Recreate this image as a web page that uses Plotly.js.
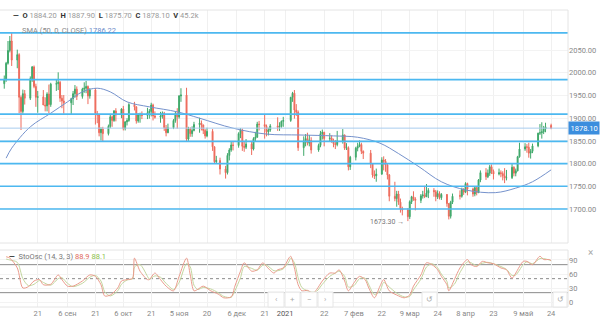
<!DOCTYPE html>
<html><head><meta charset="utf-8">
<script src="https://cdn.plot.ly/plotly-3.0.1.min.js"></script>
<style>html,body{margin:0;padding:0;background:#fff}#chart{width:600px;height:331px}</style>
</head><body><div id="chart"></div>
<script>
// ---- candle data (daily) ----
const dates = [
"2020-08-03","2020-08-04","2020-08-05","2020-08-06","2020-08-07",
"2020-08-10","2020-08-11","2020-08-12","2020-08-13","2020-08-14",
"2020-08-17","2020-08-18","2020-08-19","2020-08-20","2020-08-21",
"2020-08-24","2020-08-25","2020-08-26","2020-08-27","2020-08-28",
"2020-08-31","2020-09-01","2020-09-02","2020-09-03","2020-09-04",
"2020-09-08","2020-09-09","2020-09-10","2020-09-11",
"2020-09-14","2020-09-15","2020-09-16","2020-09-17","2020-09-18",
"2020-09-21","2020-09-22","2020-09-23","2020-09-24","2020-09-25",
"2020-09-28","2020-09-29","2020-09-30","2020-10-01","2020-10-02",
"2020-10-05","2020-10-06","2020-10-07","2020-10-08","2020-10-09",
"2020-10-12","2020-10-13","2020-10-14","2020-10-15","2020-10-16",
"2020-10-19","2020-10-20","2020-10-21","2020-10-22","2020-10-23",
"2020-10-26","2020-10-27","2020-10-28","2020-10-29","2020-10-30",
"2020-11-02","2020-11-03","2020-11-04","2020-11-05","2020-11-06",
"2020-11-09","2020-11-10","2020-11-11","2020-11-12","2020-11-13",
"2020-11-16","2020-11-17","2020-11-18","2020-11-19","2020-11-20",
"2020-11-23","2020-11-24","2020-11-25","2020-11-27",
"2020-11-30","2020-12-01","2020-12-02","2020-12-03","2020-12-04",
"2020-12-07","2020-12-08","2020-12-09","2020-12-10","2020-12-11",
"2020-12-14","2020-12-15","2020-12-16","2020-12-17","2020-12-18",
"2020-12-21","2020-12-22","2020-12-23","2020-12-24",
"2020-12-28","2020-12-29","2020-12-30","2020-12-31",
"2021-01-04","2021-01-05","2021-01-06","2021-01-07","2021-01-08",
"2021-01-11","2021-01-12","2021-01-13","2021-01-14","2021-01-15",
"2021-01-19","2021-01-20","2021-01-21","2021-01-22",
"2021-01-25","2021-01-26","2021-01-27","2021-01-28","2021-01-29",
"2021-02-01","2021-02-02","2021-02-03","2021-02-04","2021-02-05",
"2021-02-08","2021-02-09","2021-02-10","2021-02-11","2021-02-12",
"2021-02-16","2021-02-17","2021-02-18","2021-02-19",
"2021-02-22","2021-02-23","2021-02-24","2021-02-25","2021-02-26",
"2021-03-01","2021-03-02","2021-03-03","2021-03-04","2021-03-05",
"2021-03-08","2021-03-09","2021-03-10","2021-03-11","2021-03-12",
"2021-03-15","2021-03-16","2021-03-17","2021-03-18","2021-03-19",
"2021-03-22","2021-03-23","2021-03-24","2021-03-25","2021-03-26",
"2021-03-29","2021-03-30","2021-03-31","2021-04-01",
"2021-04-05","2021-04-06","2021-04-07","2021-04-08","2021-04-09",
"2021-04-12","2021-04-13","2021-04-14","2021-04-15","2021-04-16",
"2021-04-19","2021-04-20","2021-04-21","2021-04-22","2021-04-23",
"2021-04-26","2021-04-27","2021-04-28","2021-04-29","2021-04-30",
"2021-05-03","2021-05-04","2021-05-05","2021-05-06","2021-05-07",
"2021-05-10","2021-05-11","2021-05-12","2021-05-13","2021-05-14",
"2021-05-17","2021-05-18","2021-05-19","2021-05-20","2021-05-21",
"2021-05-24"];

const open = [
1976,1985,2021,2049,2070, 2028,2040,1946,1915,1954, 1944,1987,2013,1970,1946,
1947,1929,1927,1953,1930, 1975,1976,1979,1944,1938, 1934,1943,1954,1964,
1948,1964,1966,1970,1949, 1962,1910,1907,1868,1876, 1866,1882,1903,1895,1916,
1907,1920,1877,1892,1895, 1930,1925,1894,1907,1908, 1906,1912,1915,1929,1905,
1902,1905,1911,1879,1868, 1879,1895,1910,1903,1949, 1951,1854,1876,1866,1873,
1886,1889,1885,1873,1861, 1871,1837,1804,1807, 1788,1780,1818,1830,1841,
1840,1866,1874,1838,1836, 1843,1832,1855,1858,1887, 1886,1882,1870,1874,
1883,1880,1882,1893, 1895,1946,1955,1918,1913, 1835,1850,1855,1845,1851,
1830,1840,1866,1869, 1855,1856,1850,1844,1842, 1850,1863,1834,1835,1793,
1814,1834,1838,1842,1827, 1823,1799,1775,1773, 1777,1808,1805,1797,1775,
1728,1723,1733,1715,1700, 1698,1683,1716,1727,1722, 1719,1729,1731,1727,1735,
1741,1738,1727,1734,1725, 1732,1712,1684,1715, 1730,1728,1743,1737,1756,
1744,1733,1747,1736,1764, 1780,1771,1779,1793,1783, 1777,1780,1778,1773,1768,
1769,1792,1779,1784,1815, 1832,1837,1836,1823,1827, 1839,1867,1868,1870,1876,
1884.2];

const high = [
1994,2024,2070,2081,2089, 2051,2043,1950,1963,1962, 1992,2015,2016,1976,1960,
1962,1946,1957,1974,1978, 1985,2001,1982,1951,1951, 1945,1960,1973,1970,
1967,1979,1982,1972,1966, 1966,1916,1909,1880,1881, 1886,1907,1906,1918,1922,
1922,1927,1893,1900,1933, 1936,1926,1911,1912,1915, 1923,1920,1934,1932,1915,
1914,1915,1914,1885,1888, 1898,1915,1922,1951,1966, 1967,1881,1880,1882,1892,
1901,1895,1886,1876,1879, 1876,1838,1817,1813, 1795,1823,1834,1848,1849,
1869,1878,1877,1848,1854, 1848,1858,1870,1892,1894, 1907,1886,1879,1887,
1902,1891,1895,1903, 1947,1958,1962,1931,1917, 1860,1865,1868,1863,1858,
1844,1872,1875,1870, 1867,1862,1855,1852,1872, 1876,1864,1845,1838,1817,
1837,1846,1851,1846,1829, 1830,1800,1785,1789, 1814,1816,1810,1800,1777,
1760,1740,1740,1723,1705, 1702,1719,1729,1739,1726, 1733,1740,1751,1755,1746,
1746,1742,1741,1739,1735, 1733,1713,1718,1734, 1741,1747,1746,1759,1758,
1747,1750,1749,1766,1785, 1790,1787,1797,1798,1787, 1789,1785,1783,1790,1786,
1799,1794,1789,1817,1846, 1845,1843,1846,1832,1844, 1868,1887,1891,1883,1890,
1887.9];

const low = [
1965,1980,2018,2045,2015, 2010,1911,1874,1910,1930, 1940,1980,1966,1925,1912,
1929,1915,1915,1911,1925, 1960,1962,1936,1922,1910, 1908,1929,1945,1940,
1943,1956,1955,1931,1943, 1886,1889,1860,1851,1848, 1862,1878,1881,1892,1893,
1900,1873,1873,1884,1892, 1917,1888,1890,1890,1898, 1898,1899,1904,1895,1899,
1890,1899,1872,1860,1867, 1876,1890,1877,1899,1936, 1849,1850,1859,1859,1871,
1868,1873,1865,1855,1858, 1828,1800,1800,1776, 1767,1776,1807,1826,1829,
1835,1856,1828,1826,1832, 1819,1829,1849,1857,1873, 1855,1860,1862,1870,
1872,1872,1879,1881, 1892,1936,1899,1905,1828, 1817,1838,1840,1838,1822,
1826,1836,1853,1838, 1849,1846,1836,1832,1838, 1844,1830,1830,1785,1786,
1807,1827,1836,1821,1810, 1790,1769,1766,1760, 1775,1785,1782,1765,1717,
1717,1705,1709,1692,1686, 1673.3,1678,1711,1718,1697, 1713,1723,1724,1727,1724,
1727,1717,1722,1721,1720, 1705,1677,1679,1711, 1721,1725,1731,1735,1730,
1727,1728,1730,1735,1759, 1764,1768,1773,1777,1765, 1774,1770,1763,1757,1763,
1766,1772,1772,1783,1813, 1828,1824,1813,1811,1823, 1836,1863,1855,1865,1869,
1875.7];

const close = [
1986,2021,2049,2070,2028, 2040,1946,1915,1954,1944, 1987,2013,1970,1946,1947,
1929,1927,1953,1930,1975, 1976,1979,1944,1938,1934, 1943,1954,1964,1948,
1964,1966,1970,1949,1962, 1910,1907,1868,1876,1866, 1882,1903,1895,1916,1907,
1920,1877,1892,1895,1930, 1925,1894,1907,1908,1906, 1912,1915,1929,1905,1902,
1905,1911,1879,1868,1879, 1895,1910,1903,1949,1951, 1854,1876,1866,1873,1886,
1889,1885,1873,1861,1871, 1837,1804,1807,1788, 1780,1818,1830,1841,1840,
1866,1874,1838,1836,1843, 1832,1855,1858,1887,1886, 1882,1870,1874,1883,
1880,1882,1893,1895, 1946,1955,1918,1913,1835, 1850,1855,1845,1851,1830,
1840,1866,1869,1855, 1856,1850,1844,1842,1850, 1863,1834,1835,1793,1814,
1834,1838,1842,1827,1823, 1799,1775,1773,1777, 1808,1805,1797,1775,1728,
1723,1733,1715,1700,1698, 1683,1716,1727,1722,1719, 1729,1731,1727,1735,1741,
1738,1727,1734,1725,1732, 1712,1684,1715,1728, 1728,1743,1737,1756,1744,
1733,1747,1736,1764,1780, 1771,1779,1793,1783,1777, 1780,1778,1773,1768,1769,
1792,1779,1784,1815,1832, 1837,1836,1823,1827,1839, 1867,1868,1870,1876,1881,
1878.1];

const lastVolume = "45.2k";

// ---- SMA(50) ----
const smaDates = ["2020-08-04","2020-08-07","2020-08-17","2020-08-28","2020-09-06","2020-09-14","2020-09-22","2020-09-29","2020-10-08","2020-10-20","2020-11-04","2020-11-16","2020-12-04","2020-12-22","2021-01-09","2021-01-27","2021-02-09","2021-02-21","2021-03-03","2021-03-14","2021-03-26","2021-04-08","2021-04-24","2021-05-05","2021-05-14","2021-05-24"];
const smaValues = [1812,1834,1881,1911,1936,1958,1966,1958,1936,1925,1914,1900,1878,1865,1863,1861,1858,1845,1822,1793,1760,1742,1736,1746,1760,1786.22];

// ---- Stochastic oscillator (14,3,3) ----
const stochDates = ["2020-08-04","2020-08-06","2020-08-10","2020-08-13","2020-08-16","2020-08-19","2020-08-22","2020-08-24","2020-08-28","2020-09-01","2020-09-03","2020-09-06","2020-09-09","2020-09-14","2020-09-18","2020-09-21","2020-09-24","2020-09-26","2020-09-29","2020-10-03","2020-10-05","2020-10-08","2020-10-11","2020-10-12","2020-10-15","2020-10-19","2020-10-20","2020-10-23","2020-10-26","2020-10-29","2020-11-02","2020-11-05","2020-11-09","2020-11-11","2020-11-13","2020-11-15","2020-11-18","2020-11-22","2020-11-26","2020-11-29","2020-12-03","2020-12-05","2020-12-08","2020-12-10","2020-12-14","2020-12-17","2020-12-20","2020-12-22","2020-12-26","2020-12-28","2020-12-31","2021-01-03","2021-01-04","2021-01-06","2021-01-08","2021-01-10","2021-01-13","2021-01-16","2021-01-18","2021-01-21","2021-01-25","2021-01-28","2021-01-30","2021-02-02","2021-02-04","2021-02-07","2021-02-10","2021-02-13","2021-02-15","2021-02-18","2021-02-21","2021-02-23","2021-02-26","2021-03-02","2021-03-06","2021-03-09","2021-03-11","2021-03-15","2021-03-18","2021-03-21","2021-03-24","2021-03-26","2021-03-29","2021-03-30","2021-04-02","2021-04-05","2021-04-09","2021-04-11","2021-04-14","2021-04-17","2021-04-20","2021-04-23","2021-04-27","2021-04-30","2021-05-03","2021-05-05","2021-05-09","2021-05-11","2021-05-14","2021-05-18","2021-05-20","2021-05-23","2021-05-24"];
const stochK = [97,94,73,30,33,45,48,37,38,58,48,34,34,45,58,55,37,13,15,30,45,48,51,94,66,48,48,62,48,34,24,55,94,58,24,27,34,24,17,9,11,34,66,84,66,69,84,76,62,69,73,94,98,73,37,24,25,19,27,45,62,62,69,45,24,41,55,48,30,9,34,48,24,15,9,15,34,58,84,80,69,55,37,24,48,73,91,80,76,87,84,82,73,69,51,62,87,87,80,98,91,91,88.9];
const stochD = [92,90,85,50,35,38,46,42,36,50,52,40,33,40,53,57,45,22,13,24,38,47,50,75,80,55,49,56,53,40,27,42,82,75,36,27,31,28,20,12,10,24,52,76,72,68,79,79,67,67,71,86,94,84,52,31,24,21,23,38,55,62,66,55,32,35,50,51,37,16,24,42,32,19,11,12,26,49,75,82,73,60,44,30,38,63,86,84,78,83,85,82,76,70,57,58,80,86,82,93,93,90,88.1];

// ---- horizontal levels & ticks ----
const levelLines = [2088, 1985, 1909, 1849, 1800, 1750, 1700];
const priceTicks = [1700, 1750, 1800, 1850, 1900, 1950, 2000, 2050];
const stochTicks = [0, 30, 60, 90];
const stochLevels = [80, 50, 20];
const xTickDates = ["2020-08-21","2020-09-06","2020-09-21","2020-10-06","2020-10-21","2020-11-05","2020-11-20","2020-12-06","2020-12-21","2021-01-01","2021-01-22","2021-02-07","2021-02-22","2021-03-09","2021-03-24","2021-04-08","2021-04-23","2021-05-09","2021-05-24"];
const xTickLabels = ["21","6 сен","21","6 окт","21","5 ноя","20","6 дек","21","<span style=\"color:#555\">2021</span>","22","7 фев","22","9 мар","24","8 апр","23","9 май","24"];

// ---- layout geometry (pixels) ----
const W = 600, H = 331, mL = 0, mR = 32, mT = 10, mB = 24;
const plotW = W - mL - mR, plotH = H - mT - mB;
const px = x => (x - mL) / plotW;
const py = y => (H - mB - y) / plotH;

const FONT = 'Roboto, Arial, sans-serif';
const n = close.length - 1;
const f2 = v => v.toFixed(2);

const traces = [
  {type: 'candlestick', x: dates, open: open, high: high, low: low, close: close,
   xaxis: 'x', yaxis: 'y',
   increasing: {line: {color: '#3fa86a', width: 1}, fillcolor: '#3fa86a'},
   decreasing: {line: {color: '#ee6b5c', width: 1}, fillcolor: '#ee6b5c'},
   hoverinfo: 'skip'},
  {type: 'scatter', mode: 'lines', x: smaDates, y: smaValues, xaxis: 'x', yaxis: 'y',
   line: {color: '#7592cc', width: 1, shape: 'spline', smoothing: 1}, hoverinfo: 'skip'},
  {type: 'scatter', mode: 'lines', x: stochDates, y: stochD, xaxis: 'x', yaxis: 'y2',
   line: {color: '#c3d69e', width: 1, shape: 'spline', smoothing: 0.8}, hoverinfo: 'skip'},
  {type: 'scatter', mode: 'lines', x: stochDates, y: stochK, xaxis: 'x', yaxis: 'y2',
   line: {color: '#eb9b8c', width: 1, shape: 'spline', smoothing: 0.8}, hoverinfo: 'skip'}
];

const shapes = [];
// last price line
shapes.push({type: 'line', xref: 'paper', yref: 'y', x0: 0, x1: 1, y0: close[n], y1: close[n],
  line: {color: '#a8cdee', width: 1}, layer: 'above'});
// level lines
levelLines.forEach(v => shapes.push({type: 'line', xref: 'paper', yref: 'y', x0: 0, x1: 1, y0: v, y1: v,
  line: {color: '#4cb8f0', width: 1.6}, layer: 'above'}));
// stoch levels
stochLevels.forEach(v => shapes.push({type: 'line', xref: 'paper', yref: 'y2', x0: 0, x1: 1, y0: v, y1: v,
  line: {color: '#8a8a8a', width: 1, dash: v === 50 ? '3px,3px' : 'solid'}, layer: 'below'}));
// panel borders
const border = '#e4e4e4';
[[0, 1, py(10), py(10)], [0, 1, py(243), py(243)], [0, 1, py(250), py(250)], [0, 1, 0, 0],
 [1, 1, py(10), py(243)], [1, 1, 0, py(250)]].forEach(b => shapes.push({type: 'line', xref: 'paper', yref: 'paper',
  x0: b[0], x1: b[1], y0: b[2], y1: b[3], line: {color: border, width: 1}}));
// navigation buttons
const btns = [[268, 284, '‹'], [285, 300, '+'], [301, 317, '−'], [318, 333, '›'], [422, 437, '↺'], [553, 567, '↺']];
btns.forEach(b => shapes.push({type: 'rect', xref: 'paper', yref: 'paper', x0: px(b[0]), x1: px(b[1]), y0: py(307), y1: py(292),
  line: {color: '#e6e6e6', width: 1}, fillcolor: 'rgba(255,255,255,0.9)'}));

const annotations = [
  {xref: 'paper', yref: 'paper', x: px(11), y: py(15), xanchor: 'left', yanchor: 'middle', showarrow: false,
   font: {family: FONT, size: 7.5, color: '#999'},
   text: '<b style="color:#333">—</b>  <b style="color:#333">O</b> ' + f2(open[n]) + '  <b style="color:#333">H</b> ' + f2(high[n]) +
     '  <b style="color:#333">L</b> ' + f2(low[n]) + '  <b style="color:#333">C</b> ' + f2(close[n]) + '  <b style="color:#333">V</b> ' + lastVolume},
  {xref: 'paper', yref: 'paper', x: px(20), y: py(30), xanchor: 'left', yanchor: 'middle', showarrow: false,
   font: {family: FONT, size: 7.5, color: '#8a8a8a'},
   text: 'SMA (50, 0, CLOSE) <span style="color:#6f8cc9">' + f2(smaValues[smaValues.length - 1]) + '</span>'},
  {xref: 'paper', yref: 'paper', x: px(7), y: py(256), xanchor: 'left', yanchor: 'middle', showarrow: false,
   font: {family: FONT, size: 7.5, color: '#777'},
   text: '<b style="color:#333">—</b>  StoOsc (14, 3, 3) <span style="color:#e06a5c">' + stochK[stochK.length - 1].toFixed(1) +
     '</span> <span style="color:#8bbf4a">' + stochD[stochD.length - 1].toFixed(1) + '</span>'},
  {xref: 'paper', yref: 'y', x: 1, y: close[n], xanchor: 'left', yanchor: 'middle', showarrow: false,
   text: f2(close[n]), bgcolor: '#3b8ede', borderpad: 1.5, font: {family: FONT, size: 7.5, color: '#fff'}},
  {xref: 'x', yref: 'y', x: '2021-03-07', y: 1672, xanchor: 'right', yanchor: 'middle', showarrow: false,
   text: f2(Math.min.apply(null, low)) + ' →', font: {family: FONT, size: 7, color: '#777'}},
  {xref: 'paper', yref: 'paper', x: px(590), y: py(253), xanchor: 'center', yanchor: 'middle', showarrow: false,
   text: '×', font: {family: FONT, size: 10, color: '#aaa'}}
];
btns.forEach(b => annotations.push({xref: 'paper', yref: 'paper', x: px((b[0] + b[1]) / 2), y: py(299.5), xanchor: 'center', yanchor: 'middle',
  showarrow: false, text: b[2], font: {family: FONT, size: 8, color: '#aaa'}}));

const layout = {
  width: W, height: H, margin: {l: mL, r: mR, t: mT, b: mB, pad: 0},
  paper_bgcolor: '#fff', plot_bgcolor: '#fff', showlegend: false, hovermode: false,
  font: {family: FONT, size: 7.5, color: '#888'},
  xaxis: {type: 'date', range: ['2020-07-31 17:00', '2021-06-02 02:00'], anchor: 'y2',
    tickvals: xTickDates, ticktext: xTickLabels, tickfont: {family: FONT, size: 7.5, color: '#888'},
    showgrid: true, gridcolor: '#f0f0f0', gridwidth: 1, ticks: '', zeroline: false, showline: false,
    rangeslider: {visible: false}, fixedrange: true},
  yaxis: {domain: [py(243), 1], range: [1625.1, 2138.3], side: 'right', tickvals: priceTicks, tickformat: '.2f',
    tickfont: {family: FONT, size: 7.5, color: '#888'}, showgrid: true, gridcolor: '#f3f3f3', ticks: '',
    zeroline: false, showline: false, fixedrange: true},
  yaxis2: {domain: [0, py(250)], range: [-10.7, 111.4], side: 'right', tickvals: stochTicks,
    tickfont: {family: FONT, size: 7.5, color: '#888'}, showgrid: true, gridcolor: '#f3f3f3', ticks: '',
    zeroline: false, showline: false, fixedrange: true},
  shapes: shapes, annotations: annotations
};

Plotly.newPlot('chart', traces, layout, {displayModeBar: false, staticPlot: true});
</script>
</body></html>
